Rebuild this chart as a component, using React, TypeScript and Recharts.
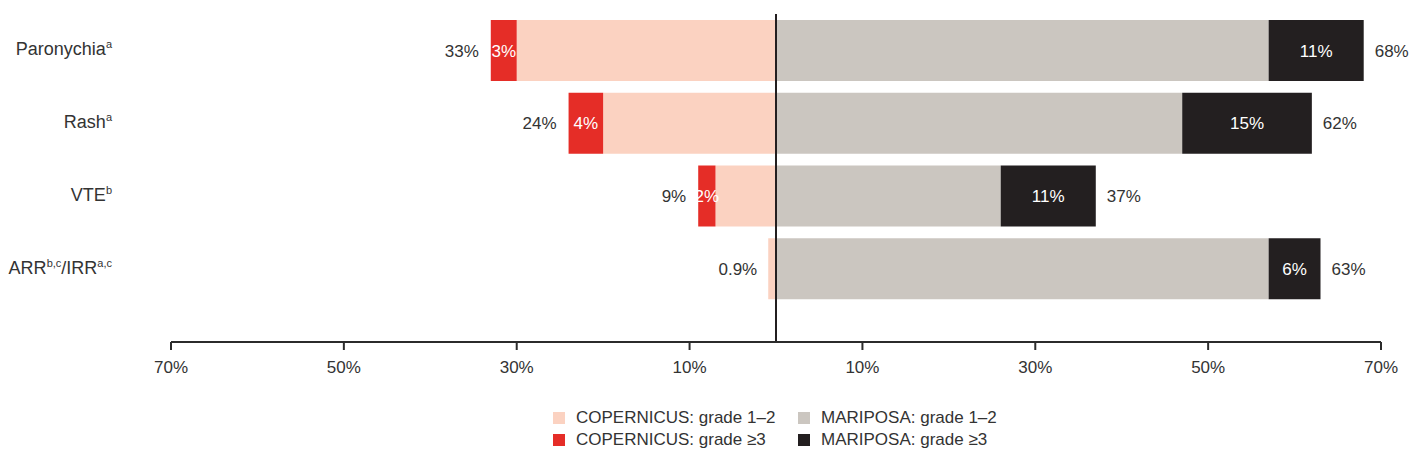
import { BarChart, Bar, XAxis, YAxis, ReferenceLine, LabelList } from "recharts";

// category labels, "^" marks a superscript footnote
const categories = ["Paronychia^a", "Rash^a", "VTE^b", "ARR^b,c/IRR^a,c"];
const copernicusLow = [30, 20, 7, 0.9];
const copernicusHigh = [3, 4, 2, 0];
const mariposaLow = [57, 47, 26, 57];
const mariposaHigh = [11, 15, 11, 6];
const xTicks = [-70, -50, -30, -10, 10, 30, 50, 70];

const COLORS = {
  copLow: "#FBD2C1",
  copHigh: "#E52D27",
  marLow: "#CBC6C0",
  marHigh: "#231F20",
};
const TEXT = "#333333";
const FONT = "'Liberation Sans', Arial, sans-serif";

const legendItems = [
  { label: "COPERNICUS: grade 1–2", color: COLORS.copLow },
  { label: "MARIPOSA: grade 1–2", color: COLORS.marLow },
  { label: "COPERNICUS: grade ≥3", color: COLORS.copHigh },
  { label: "MARIPOSA: grade ≥3", color: COLORS.marHigh },
];

const data = categories.map((name, i) => ({
  name,
  copLow: -copernicusLow[i],
  copHigh: -copernicusHigh[i],
  marLow: mariposaLow[i],
  marHigh: mariposaHigh[i],
}));

const pct = (v: number) => `${Math.round(v * 10) / 10}%`;

function box(props: any) {
  const vb = props.viewBox ?? props;
  const x = Number(props.x ?? vb.x);
  const y = Number(props.y ?? vb.y);
  const width = Number(props.width ?? vb.width);
  const height = Number(props.height ?? vb.height);
  return { x, y, width, height, index: props.index as number };
}

function CategoryTick({ y, payload }: any) {
  const parts = String(payload.value).split(/(\^[a-z,]+)/).filter(Boolean);
  let shift = 5; // baseline offset for the first run
  return (
    <text x={104} y={y} textAnchor="end" fontSize={18} fill={TEXT} fontFamily={FONT}>
      {parts.map((p, i) => {
        if (p.startsWith("^")) {
          const dy = shift - 7;
          shift = 7;
          return (
            <tspan key={i} dy={dy} fontSize={11}>
              {p.slice(1)}
            </tspan>
          );
        }
        const dy = shift;
        shift = 0;
        return (
          <tspan key={i} dy={dy}>
            {p}
          </tspan>
        );
      })}
    </text>
  );
}

// COPERNICUS total, drawn on the low segment only when there is no grade >=3 part
const copLowLabel = (props: any) => {
  const { x, y, width, height, index } = box(props);
  if (copernicusHigh[index] > 0) return null;
  const left = Math.min(x, x + width);
  return (
    <text x={left - 11} y={y + height / 2} dy={6} textAnchor="end" fontSize={17} fill={TEXT} fontFamily={FONT}>
      {pct(copernicusLow[index])}
    </text>
  );
};

const copHighLabel = (props: any) => {
  const { x, y, width, height, index } = box(props);
  const hi = copernicusHigh[index];
  if (!hi) return null;
  const left = Math.min(x, x + width);
  const cy = y + height / 2;
  return (
    <g>
      <text x={left + Math.abs(width) / 2} y={cy} dy={6} textAnchor="middle" fontSize={17} fill="#fff" fontFamily={FONT}>
        {pct(hi)}
      </text>
      <text x={left - 12} y={cy} dy={6} textAnchor="end" fontSize={17} fill={TEXT} fontFamily={FONT}>
        {pct(copernicusLow[index] + hi)}
      </text>
    </g>
  );
};

const marHighLabel = (props: any) => {
  const { x, y, width, height, index } = box(props);
  const hi = mariposaHigh[index];
  const right = Math.max(x, x + width);
  const cy = y + height / 2;
  return (
    <g>
      <text x={right - Math.abs(width) / 2} y={cy} dy={6} textAnchor="middle" fontSize={17} fill="#fff" fontFamily={FONT}>
        {pct(hi)}
      </text>
      <text x={right + 11} y={cy} dy={6} textAnchor="start" fontSize={17} fill={TEXT} fontFamily={FONT}>
        {pct(mariposaLow[index] + hi)}
      </text>
    </g>
  );
};

export default function App() {
  return (
    <div style={{ position: "relative", width: 1412, height: 443, fontFamily: FONT }}>
      <BarChart
        width={1412}
        height={384}
        data={data}
        layout="vertical"
        stackOffset="sign"
        margin={{ top: 6, right: 39, bottom: 0, left: 0 }}
      >
        <XAxis
          type="number"
          domain={[-70, 70]}
          ticks={xTicks}
          tickFormatter={(v: number) => `${Math.abs(v)}%`}
          height={50}
          tickSize={8}
          tickMargin={11}
          axisLine={{ stroke: "#2b2b2b", strokeWidth: 2 }}
          tickLine={{ stroke: "#2b2b2b", strokeWidth: 2 }}
          tick={{ fontSize: 17, fill: TEXT, fontFamily: FONT }}
        />
        <YAxis
          type="category"
          dataKey="name"
          width={163}
          axisLine={false}
          tickLine={false}
          padding={{ top: 0, bottom: 37 }}
          tick={<CategoryTick />}
        />
        <Bar dataKey="copLow" stackId="s" fill={COLORS.copLow} barSize={61} isAnimationActive={false}>
          <LabelList dataKey="copLow" content={copLowLabel} />
        </Bar>
        <Bar dataKey="copHigh" stackId="s" fill={COLORS.copHigh} barSize={61} isAnimationActive={false}>
          <LabelList dataKey="copHigh" content={copHighLabel} />
        </Bar>
        <Bar dataKey="marLow" stackId="s" fill={COLORS.marLow} barSize={61} isAnimationActive={false} />
        <Bar dataKey="marHigh" stackId="s" fill={COLORS.marHigh} barSize={61} isAnimationActive={false}>
          <LabelList dataKey="marHigh" content={marHighLabel} />
        </Bar>
        <ReferenceLine x={0} stroke="#231F20" strokeWidth={2} />
      </BarChart>
      <div
        style={{
          position: "absolute",
          left: 545,
          top: 400,
          display: "grid",
          gridTemplateColumns: "245px 260px",
          rowGap: 2,
          fontSize: 17,
          color: TEXT,
          lineHeight: "20px",
        }}
      >
        {legendItems.map((it) => (
          <div key={it.label} style={{ display: "flex", alignItems: "center", whiteSpace: "nowrap" }}>
            <span style={{ width: 12, height: 12, background: it.color, marginRight: 11, display: "inline-block" }} />
            {it.label}
          </div>
        ))}
      </div>
    </div>
  );
}
